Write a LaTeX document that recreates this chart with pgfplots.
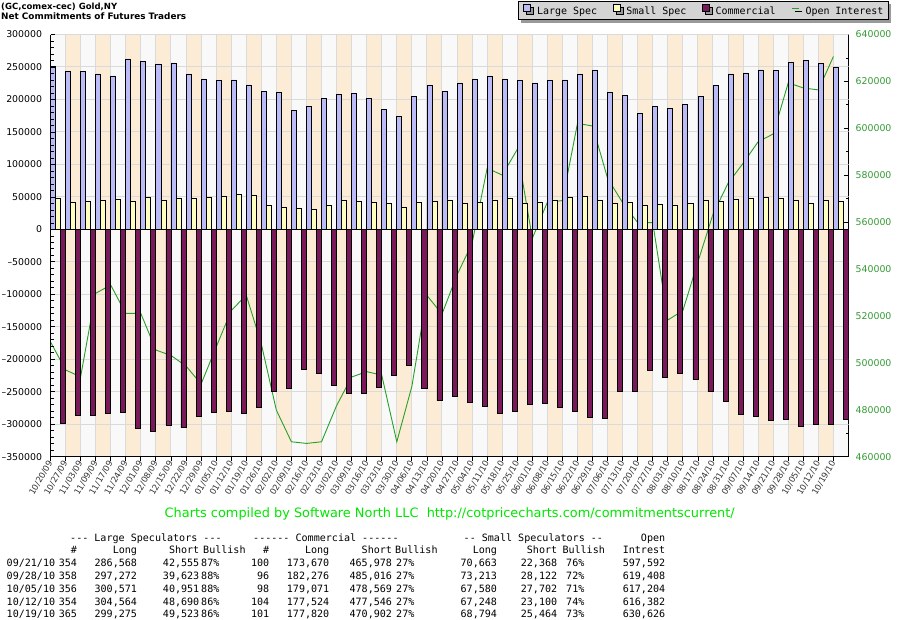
\documentclass[border=0pt]{standalone}
\usepackage{fontspec}
\setmainfont{DejaVu Sans}
\newfontfamily\monofont{DejaVu Sans Mono}
\usepackage{pgfplots}
\pgfplotsset{compat=1.18}
\usepackage{pgfplotstable}
\usetikzlibrary{shadows}
\definecolor{lscol}{RGB}{187,187,248}
\definecolor{sscol}{RGB}{255,255,192}
\definecolor{cmcol}{RGB}{122,25,90}
\definecolor{oicol}{RGB}{40,160,40}
\definecolor{oddcol}{RGB}{252,236,214}
\definecolor{evencol}{RGB}{249,249,249}
\definecolor{gridc}{RGB}{218,218,218}
\definecolor{rtick}{RGB}{51,153,51}
\definecolor{foot}{RGB}{0,230,0}
\definecolor{leggray}{RGB}{212,212,212}

\pgfplotstableread{
k ls ss cm oi
0 250500 47600 -299100 509000
1 242800 41400 -285900 497000
2 242800 43000 -285900 494100
3 239300 44500 -283800 529700
4 236200 46000 -282300 533200
5 262300 43000 -306800 521100
6 259200 49100 -310400 521100
7 254600 44500 -301300 505500
8 256200 47600 -305300 503200
9 239300 47600 -287500 498700
10 231600 49100 -281300 491000
11 228600 51100 -279700 506700
12 230100 53700 -283800 522300
13 222400 52200 -274600 528900
14 211700 37300 -250000 508100
15 210200 33700 -245400 479900
16 182500 32200 -214800 466400
17 188700 30700 -220900 465700
18 201000 37300 -239900 466400
19 207100 44500 -253100 481800
20 208600 43000 -253100 494000
21 201000 41400 -243900 496300
22 184100 39900 -224000 494800
23 173300 33700 -208600 466400
24 204000 41400 -245400 490000
25 220900 42600 -263800 528800
26 212000 45400 -257700 520800
27 225500 39900 -266900 537500
28 231600 41400 -273100 551000
29 236200 45400 -283800 583000
30 231600 47600 -280700 580100
31 228600 39900 -270000 591000
32 225500 42300 -268500 553100
33 228600 45400 -274600 568500
34 230100 49100 -280700 569200
35 239300 50600 -289900 602100
36 245400 44500 -291500 601000
37 210200 39900 -250000 578700
38 205600 42300 -250000 568300
39 177900 36800 -216300 559800
40 188700 38400 -228100 559800
41 185600 36800 -222400 518300
42 191800 39900 -231600 522300
43 204000 44500 -250000 543100
44 220900 43000 -265400 563400
45 239300 46000 -285300 576600
46 240800 47600 -288400 585100
47 245400 49100 -294500 594300
48 244013 48295 -292308 597592
49 257649 45091 -302740 619408
50 259620 39878 -299498 617204
51 255874 44148 -300022 616382
52 249752 43330 -293082 630626
}\cotdata

\newcommand\tabfont{\monofont\fontsize{10.1}{12}\selectfont}
\newcommand\trowA[8]{%
 \node[anchor=base west] at (6.5bp,#1bp) {#2};
 \node[anchor=base east] at (77.2bp,#1bp) {#3};
 \node[anchor=base east] at (137.2bp,#1bp) {#4};
 \node[anchor=base east] at (199.5bp,#1bp) {#5};
 \node[anchor=base west] at (201bp,#1bp) {#6};
 \node[anchor=base east] at (269.5bp,#1bp) {#7};
 \node[anchor=base east] at (329.5bp,#1bp) {#8};}
\newcommand\trowB[7]{%
 \node[anchor=base east] at (392.2bp,#1bp) {#2};
 \node[anchor=base west] at (396bp,#1bp) {#3};
 \node[anchor=base east] at (497.2bp,#1bp) {#4};
 \node[anchor=base east] at (557.4bp,#1bp) {#5};
 \node[anchor=base west] at (566bp,#1bp) {#6};
 \node[anchor=base east] at (665.4bp,#1bp) {#7};}

\begin{document}
\begin{tikzpicture}

% ---------- axis 1: background, grid, open interest (right axis)
\begin{axis}[at={(50.5bp,163.2bp)}, anchor=south west, scale only axis,
  width=798bp, height=422.3bp,
  xmin=0, xmax=53, ymin=460000, ymax=640000,
  axis x line=none, axis y line*=right,
  axis background/.style={fill=evencol},
  axis line style={black, line width=1bp},
  ytick={460000,480000,500000,520000,540000,560000,580000,600000,620000,640000},
  yticklabels={460000,480000,500000,520000,540000,560000,580000,600000,620000,640000},
  scaled y ticks=false, minor y tick num=1, ytick align=inside,
  major tick length=5bp, minor tick length=3bp,
  every tick/.append style={black, line width=0.8bp},
  yticklabel style={font=\fontsize{9.4}{11}\selectfont, text=rtick, inner sep=0pt, xshift=7bp},
]
\pgfplotsinvokeforeach{1,3,...,51}{\fill[oddcol] (axis cs:#1,460000) rectangle ([xshift=15.057bp]axis cs:#1,640000);}
\pgfplotsinvokeforeach{1,...,52}{\draw[gridc, line width=1bp] (axis cs:#1,460000) -- (axis cs:#1,640000);}
\pgfplotsinvokeforeach{473846.15,487692.31,501538.46,515384.62,529230.77,543076.92,556923.08,570769.23,584615.38,598461.54,612307.69,626153.85,640000}{\draw[gridc, line width=1bp] (axis cs:0,#1) -- (axis cs:53,#1);}
\addplot[oicol, line width=0.9bp, mark=none] table[x=k, y=oi]{\cotdata};
\end{axis}

% ---------- axis 2: bars (left axis)
\begin{axis}[at={(50.5bp,163.2bp)}, anchor=south west, scale only axis,
  width=798bp, height=422.3bp,
  xmin=0, xmax=53, ymin=-350000, ymax=300000,
  axis x line*=bottom, axis y line*=left, axis on top,
  axis line style={black, line width=1bp},
  xtick={0,...,52},
  xticklabels={10/20/09,10/27/09,11/03/09,11/09/09,11/17/09,11/24/09,12/01/09,12/08/09,12/15/09,12/22/09,12/29/09,01/05/10,01/12/10,01/19/10,01/26/10,02/02/10,02/09/10,02/16/10,02/23/10,03/02/10,03/09/10,03/16/10,03/23/10,03/30/10,04/06/10,04/13/10,04/20/10,04/27/10,05/04/10,05/11/10,05/18/10,05/25/10,06/01/10,06/08/10,06/15/10,06/22/10,06/29/10,07/06/10,07/13/10,07/20/10,07/27/10,08/03/10,08/10/10,08/17/10,08/24/10,08/31/10,09/07/10,09/14/10,09/21/10,09/28/10,10/05/10,10/12/10,10/19/10},
  xtick align=outside,
  ytick={-350000,-300000,-250000,-200000,-150000,-100000,-50000,0,50000,100000,150000,200000,250000,300000},
  yticklabels={–350000,–300000,–250000,–200000,–150000,–100000,–50000,0,50000,100000,150000,200000,250000,300000},
  scaled y ticks=false, minor y tick num=4, ytick align=inside,
  major tick length=4.5bp, minor tick length=3bp,
  every tick/.append style={black, line width=0.8bp},
  yticklabel style={font=\fontsize{9.4}{11}\selectfont, text=black, inner sep=0pt, xshift=-8.3bp},
  xticklabel style={font=\fontsize{8.5}{10}\selectfont, text=black!80, inner sep=0pt, rotate=60, anchor=east},
  legend columns=4,
  legend style={at={(axis description cs:0.5858,1.0793)}, anchor=north west,
    draw=black, line width=0.8bp, fill=leggray,
    font=\monofont\fontsize{10}{12}\selectfont,
    inner xsep=5bp, inner ysep=3bp,
    nodes={inner sep=0pt, text height=7.5bp, text depth=2.2bp},
    /tikz/every odd column/.append style={column sep=6bp},
    /tikz/every even column/.append style={column sep=15.5bp},
    drop shadow={shadow xshift=3bp, shadow yshift=-3bp, fill=black!40, opacity=1}},
]
\draw[black, line width=1.2bp] (axis cs:0,0) -- (axis cs:53,0);
\addplot[ybar, bar width=0.3333, bar shift=0pt, fill=lscol, draw=black, line width=0.8bp, forget plot]
  table[x expr=\thisrow{k}+0.1667, y=ls]{\cotdata};
\addplot[ybar, bar width=0.3333, bar shift=0pt, fill=sscol, draw=black, line width=0.8bp, forget plot]
  table[x expr=\thisrow{k}+0.5, y=ss]{\cotdata};
\addplot[ybar, bar width=0.3333, bar shift=0pt, fill=cmcol, draw=black, line width=0.8bp, forget plot]
  table[x expr=\thisrow{k}+0.8333, y=cm]{\cotdata};
\addlegendimage{legend image code/.code={\draw[fill=lscol,draw=black,line width=0.8bp] (0bp,0bp) rectangle (7bp,7bp);}}
\addlegendentry{Large Spec}
\addlegendimage{legend image code/.code={\draw[fill=sscol,draw=black,line width=0.8bp] (0bp,0bp) rectangle (7bp,7bp);}}
\addlegendentry{Small Spec}
\addlegendimage{legend image code/.code={\draw[fill=cmcol,draw=black,line width=0.8bp] (0bp,0bp) rectangle (7bp,7bp);}}
\addlegendentry{Commercial}
\addlegendimage{legend image code/.code={\draw[oicol,line width=1.3bp] (0bp,3.5bp) -- (7bp,3.5bp);}}
\addlegendentry{Open Interest}
\end{axis}

% ---------- titles
\node[anchor=base west, inner sep=0pt] at (1bp,610.5bp) {\resizebox{116bp}{!}{\bfseries (GC,comex-cec) Gold,NY}};
\node[anchor=base west, inner sep=0pt] at (1bp,600bp) {\resizebox{185bp}{!}{\bfseries Net Commitments of Futures Traders}};

% ---------- footer
\node[anchor=base west, inner sep=0pt, text=foot] at (164.5bp,102.7bp) {\resizebox{570bp}{!}{Charts compiled by Software North LLC\ \ http://cotpricecharts.com/commitmentscurrent/}};

% ---------- table
\begin{scope}[every node/.style={inner sep=0pt, font=\tabfont}]
\node[anchor=base west] at (70bp,78.5bp) {--- Large Speculators ---};
\node[anchor=base west] at (253bp,78.5bp) {------ Commercial ------};
\node[anchor=base west] at (463.5bp,78.5bp) {-- Small Speculators --};
\node[anchor=base east] at (665.4bp,78.5bp) {Open};
\node[anchor=base east] at (77.2bp,66bp) {\#};
\node[anchor=base east] at (137.2bp,66bp) {Long};
\node[anchor=base east] at (199.5bp,66bp) {Short};
\node[anchor=base west] at (203bp,66bp) {Bullish};
\node[anchor=base east] at (269.5bp,66bp) {\#};
\node[anchor=base east] at (329.5bp,66bp) {Long};
\node[anchor=base east] at (392.2bp,66bp) {Short};
\node[anchor=base west] at (395bp,66bp) {Bullish};
\node[anchor=base east] at (497.2bp,66bp) {Long};
\node[anchor=base east] at (557.4bp,66bp) {Short};
\node[anchor=base west] at (562.3bp,66bp) {Bullish};
\node[anchor=base east] at (665.4bp,66bp) {Intrest};
\trowA{53.7}{09/21/10}{354}{286,568}{42,555}{87\%}{100}{173,670}
\trowB{53.7}{465,978}{27\%}{70,663}{22,368}{76\%}{597,592}
\trowA{40.8}{09/28/10}{358}{297,272}{39,623}{88\%}{96}{182,276}
\trowB{40.8}{485,016}{27\%}{73,213}{28,122}{72\%}{619,408}
\trowA{27.9}{10/05/10}{356}{300,571}{40,951}{88\%}{98}{179,071}
\trowB{27.9}{478,569}{27\%}{67,580}{27,702}{71\%}{617,204}
\trowA{15}{10/12/10}{354}{304,564}{48,690}{86\%}{104}{177,524}
\trowB{15}{477,546}{27\%}{67,248}{23,100}{74\%}{616,382}
\trowA{2.1}{10/19/10}{365}{299,275}{49,523}{86\%}{101}{177,820}
\trowB{2.1}{470,902}{27\%}{68,794}{25,464}{73\%}{630,626}
\end{scope}
\pgfresetboundingbox
\useasboundingbox (0bp,0bp) rectangle (900bp,620bp);
\end{tikzpicture}
\end{document}
